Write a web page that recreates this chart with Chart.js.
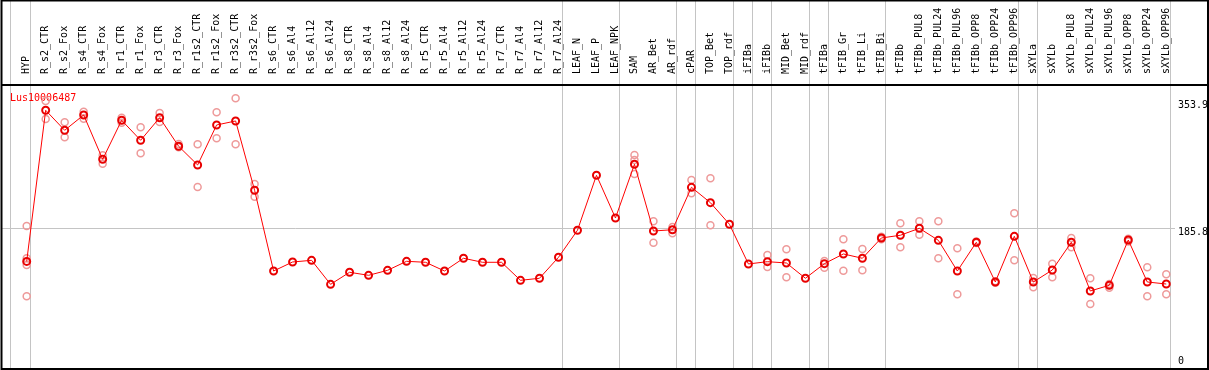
<!DOCTYPE html>
<html>
<head>
<meta charset="utf-8">
<script src="https://cdn.jsdelivr.net/npm/chart.js@4/dist/chart.umd.min.js"></script>
<style>
  body { margin: 0; background: #fff; }
  canvas { display: block; }
</style>
</head>
<body>
<canvas id="chart" width="1209" height="370"></canvas>
<script>
const geneId = 'Lus10006487';

const categories = [
  'HYP', 'R_s2_CTR', 'R_s2_Fox', 'R_s4_CTR', 'R_s4_Fox', 'R_r1_CTR', 'R_r1_Fox', 'R_r3_CTR', 'R_r3_Fox',
  'R_r1s2_CTR', 'R_r1s2_Fox', 'R_r3s2_CTR', 'R_r3s2_Fox',
  'R_s6_CTR', 'R_s6_Al4', 'R_s6_Al12', 'R_s6_Al24', 'R_s8_CTR', 'R_s8_Al4', 'R_s8_Al12', 'R_s8_Al24',
  'R_r5_CTR', 'R_r5_Al4', 'R_r5_Al12', 'R_r5_Al24', 'R_r7_CTR', 'R_r7_Al4', 'R_r7_Al12', 'R_r7_Al24',
  'LEAF_N', 'LEAF_P', 'LEAF_NPK', 'SAM', 'AR_Bet', 'AR_rdf', 'cPAR', 'TOP_Bet', 'TOP_rdf',
  'iFIBa', 'iFIBb', 'MID_Bet', 'MID_rdf', 'tFIBa', 'tFIB_Gr', 'tFIB_Li', 'tFIB_Bi', 'tFIBb',
  'tFIBb_PUL8', 'tFIBb_PUL24', 'tFIBb_PUL96', 'tFIBb_OPP8', 'tFIBb_OPP24', 'tFIBb_OPP96',
  'sXYLa', 'sXYLb', 'sXYLb_PUL8', 'sXYLb_PUL24', 'sXYLb_PUL96', 'sXYLb_OPP8', 'sXYLb_OPP24', 'sXYLb_OPP96'
];

// mean expression per sample
const means = [
  142.1, 341.6, 315.2, 335.4, 276.9, 328.4, 302.0, 331.8, 294.1,
  269.4, 322.2, 327.5, 236.0,
  129.4, 141.3, 143.5, 111.8, 127.7, 123.7, 130.3, 142.2,
  140.9, 129.4, 146.2, 140.9, 140.9, 117.1, 119.8, 147.5,
  183.2, 255.8, 199.4, 270.3, 182.2, 183.9, 239.9, 219.6, 191.1,
  138.7, 141.7, 140.0, 119.8, 139.1, 151.9, 146.2, 173.0, 176.6,
  185.8, 169.9, 129.4, 167.3, 114.9, 175.2,
  114.9, 130.7, 167.3, 103.0, 110.5, 170.3, 114.9, 112.2
];

// individual replicates per sample
const replicates = [
  [188.8, 146.2, 137.3, 96.0], [353.9, 330.1], [325.8, 306.0], [339.8, 330.5], [282.2, 271.1],
  [331.8, 325.2], [319.2, 284.8], [338.0, 326.2], [297.1, 292.8],
  [296.7, 240.3], [339.0, 304.6], [357.5, 296.7], [244.3, 227.5],
  [], [], [], [], [], [], [], [],
  [], [], [], [], [], [], [], [],
  [], [], [], [282.6, 276.0, 257.5], [195.0, 166.8], [187.5, 179.2], [249.6, 232.0], [251.8, 189.8], [],
  [], [150.5, 134.7], [158.1, 121.1], [], [142.6, 133.8], [171.3, 129.8], [158.5, 130.3], [174.7, 171.3], [192.4, 160.7],
  [195.0, 177.3], [195.0, 146.2], [159.4, 98.6], [168.4, 166.4], [115.8, 114.0], [205.6, 143.5],
  [120.2, 107.9], [139.1, 121.1], [173.0, 160.7], [119.8, 85.8], [112.2, 107.4], [172.1, 168.5], [134.3, 96.0], [125.1, 98.6]
];

const yTicks = [0, 185.8, 353.9];

// last sample index of each group (divider drawn after it)
const groupEnds = [0, 28, 31, 34, 35, 37, 38, 39, 41, 42, 45, 52, 53, 60];

const monoFont = { family: 'DejaVu Sans Mono', size: 10 };

const meanPoints = means.map((v, i) => ({ x: i, y: v }));
const repPoints = replicates.flatMap((vals, i) => vals.map(v => ({ x: i, y: v })));

const noPadding = scale => {
  scale.paddingLeft = 0;
  scale.paddingRight = 0;
  scale.paddingTop = 0;
  scale.paddingBottom = 0;
};

const framePlugin = {
  id: 'frame',
  beforeDatasetsDraw(chart) {
    const { ctx, chartArea } = chart;
    ctx.save();
    ctx.fillStyle = '#ff0000';
    ctx.font = '10px "DejaVu Sans Mono"';
    ctx.textBaseline = 'top';
    ctx.fillText(geneId, chartArea.left + 8, chartArea.top + 8);
    ctx.restore();
  },
  afterDraw(chart) {
    const { ctx, chartArea, width, height } = chart;
    ctx.save();
    ctx.strokeStyle = '#000';
    ctx.lineWidth = 2;
    ctx.strokeRect(1.5, 0.5, width - 2.5, height - 1.5);
    ctx.beginPath();
    ctx.moveTo(1, chartArea.top);
    ctx.lineTo(width - 1, chartArea.top);
    ctx.stroke();
    ctx.restore();
  }
};

const ctx = document.getElementById('chart').getContext('2d');

new Chart(ctx, {
  type: 'line',
  data: {
    datasets: [
      {
        label: 'mean',
        data: meanPoints,
        borderColor: '#ff0000',
        borderWidth: 1,
        pointRadius: 3.5,
        pointBorderWidth: 2,
        pointBorderColor: '#e80000',
        pointBackgroundColor: 'transparent',
        backgroundColor: 'transparent',
        tension: 0
      },
      {
        label: 'replicates',
        data: repPoints,
        showLine: false,
        pointRadius: 3.5,
        pointBorderWidth: 1.5,
        pointBorderColor: '#ee9a9a',
        pointBackgroundColor: 'transparent',
        backgroundColor: 'transparent'
      }
    ]
  },
  options: {
    responsive: false,
    animation: false,
    devicePixelRatio: 1,
    layout: { autoPadding: false, padding: { left: 2, right: 1, top: 0, bottom: 1 } },
    plugins: { legend: { display: false }, tooltip: { enabled: false } },
    scales: {
      x: {
        type: 'linear',
        position: 'top',
        weight: 1,
        min: -1.3,
        max: 60.46,
        grid: { display: false },
        border: { display: false },
        afterBuildTicks: scale => { scale.ticks = categories.map((_, i) => ({ value: i })); },
        afterFit: scale => { scale.height = 85; noPadding(scale); },
        ticks: {
          autoSkip: false,
          minRotation: 90,
          maxRotation: 90,
          padding: 3,
          labelOffset: 12,
          color: '#000',
          font: monoFont,
          callback: v => categories[v]
        }
      },
      xg: {
        type: 'linear',
        position: 'top',
        weight: 0,
        min: -1.3,
        max: 60.46,
        border: { display: false },
        grid: { color: '#c4c4c4', lineWidth: 1, drawTicks: true, tickLength: 85 },
        afterBuildTicks: scale => {
          scale.ticks = [{ value: -0.86 }].concat(groupEnds.map(i => ({ value: i + 0.2 })));
        },
        afterFit: scale => { scale.height = 0; noPadding(scale); },
        ticks: { display: false }
      },
      y: {
        type: 'linear',
        position: 'right',
        min: 0,
        max: 375,
        border: { display: false },
        grid: {
          drawTicks: false,
          color: c => (c.tick && c.tick.value === 185.8 ? '#c4c4c4' : 'transparent')
        },
        afterBuildTicks: scale => { scale.ticks = yTicks.map(v => ({ value: v })); },
        afterFit: scale => { scale.width = 33; noPadding(scale); },
        ticks: {
          padding: 3,
          labelOffset: 4,
          color: '#000',
          font: monoFont,
          callback: v => (v === 0 ? ['0', '', ''] : String(v))
        }
      }
    }
  },
  plugins: [framePlugin]
});
</script>
</body>
</html>
